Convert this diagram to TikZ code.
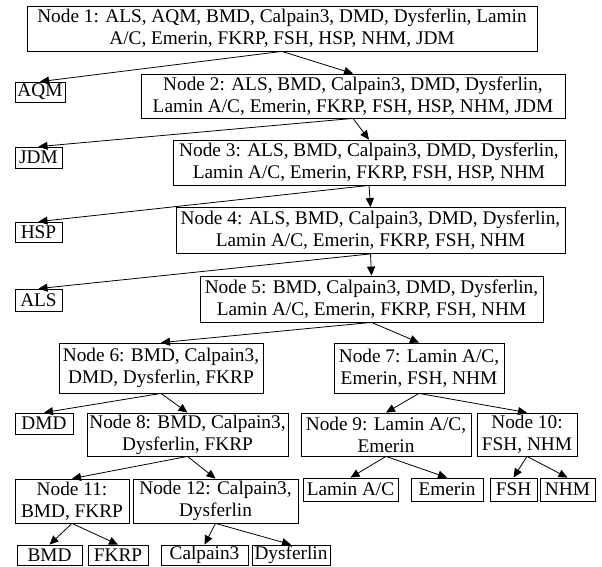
\documentclass[tikz,border=0pt]{standalone}
\usepackage{fontspec}
\setmainfont{Liberation Serif}
\usetikzlibrary{arrows.meta}
\begin{document}
\begin{tikzpicture}[x=1pt,y=-1pt,
  box/.style={draw, line width=0.8pt, inner sep=0pt, align=center, font=\fontsize{19.3}{22}\selectfont},
  link/.style={line width=0.8pt, -{Triangle[length=9pt,width=8pt]}}]
\useasboundingbox (0,0) rectangle (602,566);
\node[box, minimum width=510pt, minimum height=45pt] (n1) at (282,28.5) {Node 1: ALS, AQM, BMD, Calpain3, DMD, Dysferlin, Lamin\\A/C, Emerin, FKRP, FSH, HSP, NHM, JDM};
\node[box, minimum width=50pt, minimum height=20pt] (aqm) at (40,92) {AQM};
\node[box, minimum width=424pt, minimum height=44pt] (n2) at (353,96) {Node 2: ALS, BMD, Calpain3, DMD, Dysferlin,\\Lamin A/C, Emerin, FKRP, FSH, HSP, NHM, JDM};
\node[box, minimum width=47pt, minimum height=21pt] (jdm) at (38.5,157.5) {JDM};
\node[box, minimum width=392pt, minimum height=45pt] (n3) at (369,162.5) {Node 3: ALS, BMD, Calpain3, DMD, Dysferlin,\\Lamin A/C, Emerin, FKRP, FSH, HSP, NHM};
\node[box, minimum width=47pt, minimum height=20pt] (hsp) at (38.5,232) {HSP};
\node[box, minimum width=389pt, minimum height=46pt] (n4) at (370.5,230.5) {Node 4: ALS, BMD, Calpain3, DMD, Dysferlin,\\Lamin A/C, Emerin, FKRP, FSH, NHM};
\node[box, minimum width=47pt, minimum height=22pt] (als) at (38.5,300) {ALS};
\node[box, minimum width=343pt, minimum height=46pt] (n5) at (371.5,299) {Node 5: BMD, Calpain3, DMD, Dysferlin,\\Lamin A/C, Emerin, FKRP, FSH, NHM};
\node[box, minimum width=204pt, minimum height=50pt] (n6) at (161,368) {Node 6: BMD, Calpain3,\\DMD, Dysferlin, FKRP};
\node[box, minimum width=170pt, minimum height=50pt] (n7) at (419,368) {Node 7: Lamin A/C,\\Emerin, FSH, NHM};
\node[box, minimum width=58pt, minimum height=21pt] (dmd) at (44,423.5) {DMD};
\node[box, minimum width=201pt, minimum height=43pt] (n8) at (187.5,434.5) {Node 8: BMD, Calpain3,\\Dysferlin, FKRP};
\node[box, minimum width=170pt, minimum height=43pt] (n9) at (386,434.5) {Node 9: Lamin A/C,\\Emerin};
\node[box, minimum width=100pt, minimum height=43pt] (n10) at (527,434.5) {Node 10:\\FSH, NHM};
\node[box, minimum width=114pt, minimum height=44pt] (n11) at (72,501) {Node 11:\\BMD, FKRP};
\node[box, minimum width=165pt, minimum height=44pt] (n12) at (215.5,501) {Node 12: Calpain3,\\Dysferlin};
\node[box, minimum width=95pt, minimum height=23pt] (lamin) at (350.5,489.5) {Lamin A/C};
\node[box, minimum width=72pt, minimum height=23pt] (emerin) at (447,489.5) {Emerin};
\node[box, minimum width=47pt, minimum height=23pt] (fsh) at (513.5,489.5) {FSH};
\node[box, minimum width=55pt, minimum height=23pt] (nhm) at (567.5,489.5) {NHM};
\node[box, minimum width=65pt, minimum height=20.5pt] (bmd) at (49.5,555.25) {BMD};
\node[box, minimum width=60pt, minimum height=20.5pt] (fkrp) at (118,555.25) {FKRP};
\node[box, minimum width=87pt, minimum height=20.5pt] (calp) at (204.5,555.25) {Calpain3};
\node[box, minimum width=78pt, minimum height=20.5pt] (dysf) at (291,555.25) {Dysferlin};
\draw[link] (n1.south) -- (aqm.north);
\draw[link] (n1.south) -- (n2.north);
\draw[link] (n2.south) -- (jdm.north);
\draw[link] (n2.south) -- (n3.north);
\draw[link] (n3.south) -- (hsp.north);
\draw[link] (n3.south) -- (n4.north);
\draw[link] (n4.south) -- (als.north);
\draw[link] (n4.south) -- (n5.north);
\draw[link] (n5.south) -- (n6.north);
\draw[link] (n5.south) -- (n7.north);
\draw[link] (n6.south) -- (dmd.north);
\draw[link] (n6.south) -- (n8.north);
\draw[link] (n7.south) -- (n9.north);
\draw[link] (n7.south) -- (n10.north);
\draw[link] (n8.south) -- (n11.north);
\draw[link] (n8.south) -- (n12.north);
\draw[link] (n9.south) -- (lamin.north);
\draw[link] (n9.south) -- (emerin.north);
\draw[link] (n10.south) -- (fsh.north);
\draw[link] (n10.south) -- (nhm.north);
\draw[link] (n11.south) -- (bmd.north);
\draw[link] (n11.south) -- (fkrp.north);
\draw[link] (n12.south) -- (calp.north);
\draw[link] (n12.south) -- (dysf.north);
\end{tikzpicture}
\end{document}
